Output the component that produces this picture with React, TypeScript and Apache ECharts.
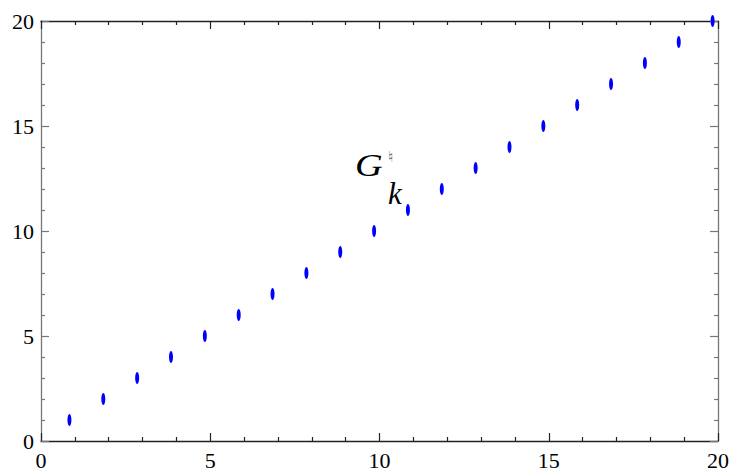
import React, { useEffect, useRef } from "react";
import * as echarts from "echarts";

const kValues = [1, 2, 3, 4, 5, 6, 7, 8, 9, 10, 11, 12, 13, 14, 15, 16, 17, 18, 19, 20];
const xPositions = [0.84, 1.84, 2.84, 3.84, 4.84, 5.84, 6.84, 7.84, 8.84, 9.84, 10.84, 11.84, 12.84, 13.84, 14.84, 15.84, 16.84, 17.84, 18.84, 19.84];
const axisMin = 0;
const axisMax = 20;
const majorInterval = 5;

const FONT = "Liberation Serif";
const X_AXIS_COLOR = "#222";
const Y_AXIS_COLOR = "#777";

export default function App() {
  const ref = useRef<HTMLDivElement>(null);
  useEffect(() => {
    if (!ref.current) return;
    const chart = echarts.init(ref.current, undefined, { renderer: "svg" });
    const data = xPositions.map((x, i) => [x, kValues[i]]);
    const baseAxis = (showLabels: boolean, position: string, isX: boolean) => {
      const color = isX ? X_AXIS_COLOR : Y_AXIS_COLOR;
      return {
        type: "value",
        position,
        min: axisMin,
        max: axisMax,
        interval: majorInterval,
        splitLine: { show: false },
        axisLine: { show: true, onZero: false, lineStyle: { color, width: 1.3 } },
        axisTick: { show: true, inside: true, length: 8, lineStyle: { color, width: 1.2 } },
        minorTick: { show: true, splitNumber: 5, length: 4, lineStyle: { color, width: 1.2 } },
        axisLabel: {
          show: showLabels,
          fontFamily: FONT,
          fontSize: 22,
          color: "#000",
          margin: isX ? 8 : 7,
        },
      };
    };
    chart.setOption({
      animation: false,
      grid: { left: 41, right: 17, top: 21, bottom: 29, containLabel: false },
      xAxis: [baseAxis(true, "bottom", true), baseAxis(false, "top", true)],
      yAxis: [baseAxis(true, "left", false), baseAxis(false, "right", false)],
      series: [
        {
          type: "scatter",
          xAxisIndex: 0,
          yAxisIndex: 0,
          data,
          symbol: "circle",
          symbolSize: [4, 12],
          itemStyle: { color: "#0000ff", opacity: 1 },
          clip: true,
        },
      ],
      graphic: [
        {
          type: "text",
          x: 355,
          y: 150,
          scaleX: 1.2,
          style: {
            text: "G",
            fontFamily: FONT,
            fontStyle: "italic",
            fontSize: 32,
            fill: "#000",
          },
        },
        {
          type: "text",
          x: 388,
          y: 149,
          style: { text: "♮", fontFamily: "DejaVu Serif", fontSize: 15, fill: "#555" },
        },
        {
          type: "text",
          x: 388,
          y: 178,
          style: {
            text: "k",
            fontFamily: FONT,
            fontStyle: "italic",
            fontSize: 31,
            fill: "#000",
          },
        },
      ],
    });
    return () => chart.dispose();
  }, []);
  return <div ref={ref} style={{ width: 735, height: 471, position: "absolute", left: 0, top: 0 }} />;
}
